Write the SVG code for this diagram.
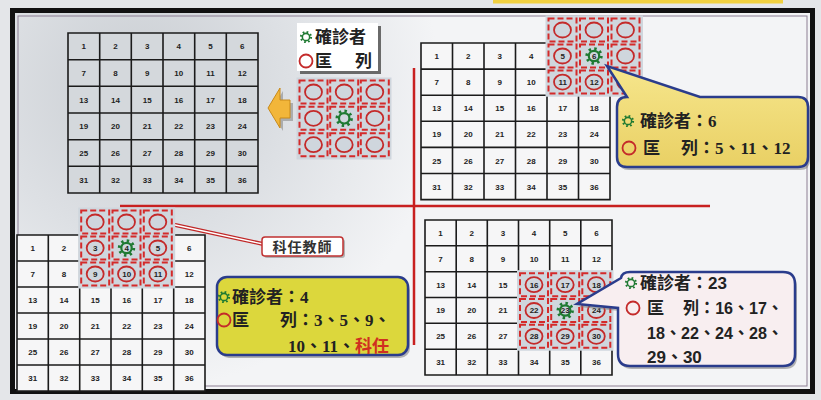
<svg xmlns="http://www.w3.org/2000/svg" xmlns:xlink="http://www.w3.org/1999/xlink" width="821" height="400" viewBox="0 0 821 400">
<style>
.gl{fill:none;stroke:#1b1b1b;stroke-width:1.6}
.num{font-family:"Liberation Sans",Arial,sans-serif;font-size:8px;font-weight:bold;fill:#222;text-anchor:middle}
.dsh{fill:none;stroke:#d42a2a;stroke-width:2;stroke-dasharray:6 3}
.rc{fill:none;stroke:#c42a2a;stroke-width:1.8}
.hlbg{fill:#cfd6dd;stroke:#cfd6dd;stroke-width:3}
.txt{font-family:"Liberation Serif","Noto Sans CJK TC",serif;font-weight:bold;font-size:17px;fill:#222}
.txs{font-family:"Liberation Sans","Noto Sans CJK TC",sans-serif;font-weight:bold;font-size:17px;fill:#222}
.blue{stroke:#2a3c8c;stroke-width:2.5}
</style>
<defs>
<radialGradient id="bgtl" cx="140" cy="90" r="300" gradientUnits="userSpaceOnUse">
<stop offset="0" stop-color="#c9cdd2"/><stop offset="0.5" stop-color="#dde0e4"/><stop offset="1" stop-color="#f3f4f6"/>
</radialGradient>
<linearGradient id="gold" x1="0" y1="0" x2="0" y2="1">
<stop offset="0" stop-color="#f6e68c"/><stop offset="1" stop-color="#e9d064"/>
</linearGradient>
<symbol id="gear" viewBox="-10 -10 20 20">
<circle r="5.2" fill="none" stroke="#1f7a32" stroke-width="2.2"/>
<circle r="7.2" fill="none" stroke="#1f7a32" stroke-width="3" stroke-dasharray="2.4 3.255"/>
</symbol>
<g id="hcC"><rect x="1.5" y="1.5" width="28" height="23" class="dsh"/><ellipse cx="15.5" cy="13" rx="8.5" ry="7.5" class="rc"/></g>
<g id="hcG"><rect x="1.5" y="1.5" width="28" height="23" class="dsh"/><use xlink:href="#gear" x="5.5" y="3" width="20" height="20"/></g>
</defs>

<!-- background and frame -->
<rect width="821" height="400" fill="#e4e6e9"/>
<rect x="493" y="0" width="290" height="3.5" fill="#f0d040"/>
<rect x="12.5" y="10.5" width="800" height="381" fill="url(#bgtl)" stroke="#111" stroke-width="5"/>
<rect x="18" y="16" width="789" height="370" fill="none" stroke="#8c7f93" stroke-width="1"/>

<!-- top-left grid -->
<g id="grid-tl">
<rect x="68" y="33" width="190" height="160" fill="#d4d8dc"/>
<path class="gl" d="M68 33H258V193H68Z M99.7 33V193 M131.3 33V193 M163 33V193 M194.7 33V193 M226.3 33V193 M68 59.7H258 M68 86.3H258 M68 113H258 M68 139.7H258 M68 166.3H258"/>
<text class="num" y="49.3"><tspan x="83.8">1</tspan><tspan x="115.5">2</tspan><tspan x="147.2">3</tspan><tspan x="178.8">4</tspan><tspan x="210.5">5</tspan><tspan x="242.2">6</tspan></text>
<text class="num" y="76"><tspan x="83.8">7</tspan><tspan x="115.5">8</tspan><tspan x="147.2">9</tspan><tspan x="178.8">10</tspan><tspan x="210.5">11</tspan><tspan x="242.2">12</tspan></text>
<text class="num" y="102.7"><tspan x="83.8">13</tspan><tspan x="115.5">14</tspan><tspan x="147.2">15</tspan><tspan x="178.8">16</tspan><tspan x="210.5">17</tspan><tspan x="242.2">18</tspan></text>
<text class="num" y="129.3"><tspan x="83.8">19</tspan><tspan x="115.5">20</tspan><tspan x="147.2">21</tspan><tspan x="178.8">22</tspan><tspan x="210.5">23</tspan><tspan x="242.2">24</tspan></text>
<text class="num" y="156"><tspan x="83.8">25</tspan><tspan x="115.5">26</tspan><tspan x="147.2">27</tspan><tspan x="178.8">28</tspan><tspan x="210.5">29</tspan><tspan x="242.2">30</tspan></text>
<text class="num" y="182.7"><tspan x="83.8">31</tspan><tspan x="115.5">32</tspan><tspan x="147.2">33</tspan><tspan x="178.8">34</tspan><tspan x="210.5">35</tspan><tspan x="242.2">36</tspan></text>
</g>

<!-- legend -->
<g id="legend">
<rect x="300" y="26" width="81" height="48" fill="#6a6a6a"/>
<rect x="297" y="23" width="81" height="48" fill="#ffffff"/>
<use xlink:href="#gear" x="299" y="30" width="14" height="14"/>
<text class="txt" x="315" y="43">確診者</text>
<circle cx="306" cy="61" r="6.5" class="rc"/>
<text class="txt" x="315" y="67">匡</text>
<text class="txt" x="355" y="67">列</text>
</g>

<g id="legend-grid">
<rect class="hlbg" x="298" y="79" width="92" height="79"/>
<use xlink:href="#hcC" x="298" y="79"/><use xlink:href="#hcC" x="328.7" y="79"/><use xlink:href="#hcC" x="359.3" y="79"/>
<use xlink:href="#hcC" x="298" y="105.3"/><use xlink:href="#hcG" x="328.7" y="105.3"/><use xlink:href="#hcC" x="359.3" y="105.3"/>
<use xlink:href="#hcC" x="298" y="131.7"/><use xlink:href="#hcC" x="328.7" y="131.7"/><use xlink:href="#hcC" x="359.3" y="131.7"/>
</g>

<g id="arrow">
<polygon points="271,111 283,91 283,103 293,103 293,121 283,121 283,131" fill="#8a8a8a" opacity="0.6"/>
<polygon points="268,108 280,88 280,100 290,100 290,118 280,118 280,128" fill="#f2b63a" stroke="#c98a1a" stroke-width="1"/>
</g>

<!-- separators -->
<g id="connectors">
<line x1="414" y1="68" x2="414" y2="345" stroke="#c82020" stroke-width="2.5"/>
<line x1="120" y1="206" x2="710" y2="206" stroke="#c82020" stroke-width="2.5"/>
<path d="M166 223 L263 244" stroke="#c02828" stroke-width="4" fill="none"/>
<path d="M166 223 L263 244" stroke="#ffffff" stroke-width="1.3" fill="none"/>
</g>

<!-- top-right grid -->
<g id="grid-tr">
<rect x="421" y="43" width="189" height="156.6" fill="#f6f6f7"/>
<path class="gl" d="M421 43H610V199.6H421Z M452.5 43V199.6 M484 43V199.6 M515.5 43V199.6 M547 43V199.6 M578.5 43V199.6 M421 69.1H610 M421 95.2H610 M421 121.3H610 M421 147.4H610 M421 173.5H610"/>
<rect class="hlbg" x="547" y="17" width="94.5" height="78.2"/>
<use xlink:href="#hcC" x="547" y="17"/><use xlink:href="#hcC" x="578.5" y="17"/><use xlink:href="#hcC" x="610" y="17"/>
<use xlink:href="#hcC" x="547" y="43"/><use xlink:href="#hcG" x="578.5" y="43"/><use xlink:href="#hcC" x="610" y="43"/>
<use xlink:href="#hcC" x="547" y="69.1"/><use xlink:href="#hcC" x="578.5" y="69.1"/><use xlink:href="#hcC" x="610" y="69.1"/>
<text class="num" y="59"><tspan x="436.8">1</tspan><tspan x="468.3">2</tspan><tspan x="499.8">3</tspan><tspan x="531.3">4</tspan><tspan x="562.8">5</tspan><tspan x="594.3">6</tspan></text>
<text class="num" y="85.2"><tspan x="436.8">7</tspan><tspan x="468.3">8</tspan><tspan x="499.8">9</tspan><tspan x="531.3">10</tspan><tspan x="562.8">11</tspan><tspan x="594.3">12</tspan></text>
<text class="num" y="111.3"><tspan x="436.8">13</tspan><tspan x="468.3">14</tspan><tspan x="499.8">15</tspan><tspan x="531.3">16</tspan><tspan x="562.8">17</tspan><tspan x="594.3">18</tspan></text>
<text class="num" y="137.4"><tspan x="436.8">19</tspan><tspan x="468.3">20</tspan><tspan x="499.8">21</tspan><tspan x="531.3">22</tspan><tspan x="562.8">23</tspan><tspan x="594.3">24</tspan></text>
<text class="num" y="163.5"><tspan x="436.8">25</tspan><tspan x="468.3">26</tspan><tspan x="499.8">27</tspan><tspan x="531.3">28</tspan><tspan x="562.8">29</tspan><tspan x="594.3">30</tspan></text>
<text class="num" y="189.6"><tspan x="436.8">31</tspan><tspan x="468.3">32</tspan><tspan x="499.8">33</tspan><tspan x="531.3">34</tspan><tspan x="562.8">35</tspan><tspan x="594.3">36</tspan></text>
</g>

<g id="callout-tr">
<path d="M629 100 L609 69 L702 100 H800 Q810 100 810 110 V160 Q810 170 800 170 H629 Q619 170 619 160 V110 Q619 100 629 100 Z" fill="#7a7a7a" opacity="0.55"/>
<path d="M627 97 L607 66 L700 97 H798 Q808 97 808 107 V157 Q808 167 798 167 H627 Q617 167 617 157 V107 Q617 97 627 97 Z" fill="url(#gold)" class="blue"/>
<use xlink:href="#gear" x="621" y="114" width="14" height="14"/>
<text class="txt" x="640" y="127">確診者：6</text>
<circle cx="629" cy="148" r="6.5" class="rc" stroke="#c8402a"/>
<text class="txt" x="643" y="154">匡</text>
<text class="txt" x="681" y="154">列：5、11、12</text>
</g>

<!-- bottom-left grid -->
<g id="grid-bl">
<rect x="17" y="235" width="188" height="156" fill="#f6f6f7"/>
<path class="gl" d="M17 235H205V391H17Z M48.3 235V391 M79.7 235V391 M111 235V391 M142.3 235V391 M173.7 235V391 M17 261H205 M17 287H205 M17 313H205 M17 339H205 M17 365H205"/>
<rect class="hlbg" x="79.7" y="209" width="94" height="78"/>
<use xlink:href="#hcC" x="79.7" y="209"/><use xlink:href="#hcC" x="111" y="209"/><use xlink:href="#hcC" x="142.3" y="209"/>
<use xlink:href="#hcC" x="79.7" y="235"/><use xlink:href="#hcG" x="111" y="235"/><use xlink:href="#hcC" x="142.3" y="235"/>
<use xlink:href="#hcC" x="79.7" y="261"/><use xlink:href="#hcC" x="111" y="261"/><use xlink:href="#hcC" x="142.3" y="261"/>
<text class="num" y="251"><tspan x="32.7">1</tspan><tspan x="64">2</tspan><tspan x="95.3">3</tspan><tspan x="126.7">4</tspan><tspan x="158">5</tspan><tspan x="189.3">6</tspan></text>
<text class="num" y="277"><tspan x="32.7">7</tspan><tspan x="64">8</tspan><tspan x="95.3">9</tspan><tspan x="126.7">10</tspan><tspan x="158">11</tspan><tspan x="189.3">12</tspan></text>
<text class="num" y="303"><tspan x="32.7">13</tspan><tspan x="64">14</tspan><tspan x="95.3">15</tspan><tspan x="126.7">16</tspan><tspan x="158">17</tspan><tspan x="189.3">18</tspan></text>
<text class="num" y="329"><tspan x="32.7">19</tspan><tspan x="64">20</tspan><tspan x="95.3">21</tspan><tspan x="126.7">22</tspan><tspan x="158">23</tspan><tspan x="189.3">24</tspan></text>
<text class="num" y="355"><tspan x="32.7">25</tspan><tspan x="64">26</tspan><tspan x="95.3">27</tspan><tspan x="126.7">28</tspan><tspan x="158">29</tspan><tspan x="189.3">30</tspan></text>
<text class="num" y="381"><tspan x="32.7">31</tspan><tspan x="64">32</tspan><tspan x="95.3">33</tspan><tspan x="126.7">34</tspan><tspan x="158">35</tspan><tspan x="189.3">36</tspan></text>
</g>

<g id="label-teacher">
<rect x="264" y="239" width="81" height="19" rx="3" fill="#8a8a8a" opacity="0.6"/>
<rect x="262" y="237" width="81" height="19" rx="3" fill="#ffffff" stroke="#c03030" stroke-width="1.5"/>
<text x="302.5" y="252" text-anchor="middle" font-family="Noto Sans CJK TC, sans-serif" font-weight="bold" font-size="14" letter-spacing="1" fill="#333">科任教師</text>
</g>

<g id="callout-bl">
<rect x="219" y="280" width="191" height="78" rx="10" fill="#7a7a7a" opacity="0.55"/>
<rect x="217" y="277" width="191" height="78" rx="10" fill="#dcd73c" class="blue"/>
<use xlink:href="#gear" x="217" y="290" width="14" height="14"/>
<text class="txt" x="232" y="303" font-size="18">確診者：4</text>
<circle cx="224" cy="320" r="6.5" class="rc" stroke="#c8402a"/>
<text class="txt" x="232" y="326" font-size="18">匡</text>
<text class="txt" x="280" y="326" font-size="18">列：3、5、9、</text>
<text class="txt" x="288" y="352" font-size="18">10、11、<tspan fill="#d03020">科任</tspan></text>
</g>

<!-- bottom-right grid -->
<g id="grid-br">
<rect x="425" y="220" width="187" height="155" fill="#f6f6f7"/>
<path class="gl" d="M425 220H612V375H425Z M456.2 220V375 M487.3 220V375 M518.5 220V375 M549.7 220V375 M580.8 220V375 M425 245.8H612 M425 271.7H612 M425 297.5H612 M425 323.3H612 M425 349.2H612"/>
<rect class="hlbg" x="518.5" y="271.7" width="93.5" height="77.5"/>
<use xlink:href="#hcC" x="518.5" y="271.7"/><use xlink:href="#hcC" x="549.7" y="271.7"/><use xlink:href="#hcC" x="580.8" y="271.7"/>
<use xlink:href="#hcC" x="518.5" y="297.5"/><use xlink:href="#hcG" x="549.7" y="297.5"/><use xlink:href="#hcC" x="580.8" y="297.5"/>
<use xlink:href="#hcC" x="518.5" y="323.3"/><use xlink:href="#hcC" x="549.7" y="323.3"/><use xlink:href="#hcC" x="580.8" y="323.3"/>
<text class="num" y="235.9"><tspan x="440.6">1</tspan><tspan x="471.8">2</tspan><tspan x="502.9">3</tspan><tspan x="534.1">4</tspan><tspan x="565.3">5</tspan><tspan x="596.4">6</tspan></text>
<text class="num" y="261.7"><tspan x="440.6">7</tspan><tspan x="471.8">8</tspan><tspan x="502.9">9</tspan><tspan x="534.1">10</tspan><tspan x="565.3">11</tspan><tspan x="596.4">12</tspan></text>
<text class="num" y="287.6"><tspan x="440.6">13</tspan><tspan x="471.8">14</tspan><tspan x="502.9">15</tspan><tspan x="534.1">16</tspan><tspan x="565.3">17</tspan><tspan x="596.4">18</tspan></text>
<text class="num" y="313.4"><tspan x="440.6">19</tspan><tspan x="471.8">20</tspan><tspan x="502.9">21</tspan><tspan x="534.1">22</tspan><tspan x="565.3">23</tspan><tspan x="596.4">24</tspan></text>
<text class="num" y="339.2"><tspan x="440.6">25</tspan><tspan x="471.8">26</tspan><tspan x="502.9">27</tspan><tspan x="534.1">28</tspan><tspan x="565.3">29</tspan><tspan x="596.4">30</tspan></text>
<text class="num" y="365.1"><tspan x="440.6">31</tspan><tspan x="471.8">32</tspan><tspan x="502.9">33</tspan><tspan x="534.1">34</tspan><tspan x="565.3">35</tspan><tspan x="596.4">36</tspan></text>
</g>

<g id="callout-br">
<path d="M632 275 H785 Q797 275 797 287 V357 Q797 369 785 369 H632 Q620 369 620 357 V311 L579 307 L623 281 Q624 275 632 275 Z" fill="#7a7a7a" opacity="0.55"/>
<path d="M630 272 H783 Q795 272 795 284 V354 Q795 366 783 366 H630 Q618 366 618 354 V308 L577 304 L621 278 Q622 272 630 272 Z" fill="#f8eef0" class="blue"/>
<use xlink:href="#gear" x="624" y="276" width="14" height="14"/>
<text class="txs" x="640" y="289">確診者：23</text>
<circle cx="633" cy="308" r="6.5" class="rc" stroke="#c8402a"/>
<text class="txs" x="647" y="314">匡</text>
<text class="txs" x="683" y="314" textLength="100" lengthAdjust="spacingAndGlyphs">列：16、17、</text>
<text class="txs" x="647" y="339" textLength="136" lengthAdjust="spacingAndGlyphs">18、22、24、28、</text>
<text class="txs" x="647" y="363">29、30</text>
</g>
</svg>
